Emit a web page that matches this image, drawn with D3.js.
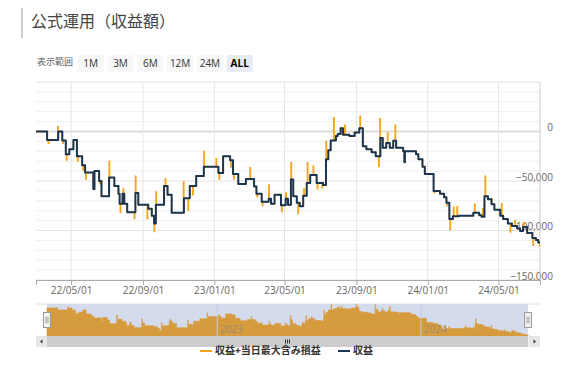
<!DOCTYPE html>
<html>
<head>
<meta charset="utf-8">
<script src="https://cdn.jsdelivr.net/npm/d3@7"></script>
<style>
  body { margin: 0; background: #fff; font-family: "Open Sans", "Noto Sans CJK JP", sans-serif; }
  svg text { font-family: "Open Sans", "Noto Sans CJK JP", sans-serif; }
</style>
</head>
<body>
<div id="chart"></div>
<script>
// 収益 (navy) - dates where the value changes, and the new value
const navyDates = [
  "2022-03-02","2022-03-21","2022-04-09","2022-04-16","2022-04-22","2022-04-28","2022-05-05","2022-05-11",
  "2022-05-20","2022-05-25","2022-06-08","2022-06-10","2022-06-18","2022-06-22","2022-07-05","2022-07-14",
  "2022-07-21","2022-07-23","2022-07-28","2022-07-31","2022-08-05","2022-08-19","2022-08-24","2022-09-10",
  "2022-09-16","2022-09-20","2022-09-23","2022-10-07","2022-10-13","2022-10-20","2022-11-10","2022-11-20",
  "2022-12-01","2022-12-14","2023-01-08","2023-01-16","2023-01-28","2023-02-02","2023-02-11","2023-02-24",
  "2023-03-10","2023-03-14","2023-03-23","2023-04-04","2023-04-08","2023-04-14","2023-04-25","2023-05-03",
  "2023-05-07","2023-05-12","2023-05-16","2023-05-22","2023-05-27","2023-06-02","2023-06-08","2023-06-14",
  "2023-06-25","2023-07-06","2023-07-11","2023-07-15","2023-07-19","2023-07-28","2023-07-31","2023-08-05",
  "2023-08-09","2023-08-20","2023-08-29","2023-09-06","2023-09-12","2023-09-18","2023-09-27","2023-10-04",
  "2023-10-12","2023-10-16","2023-10-22","2023-10-28","2023-11-03","2023-11-08","2023-11-20","2023-11-22",
  "2023-11-23","2023-12-12","2023-12-16","2023-12-23","2023-12-27","2024-01-11","2024-01-22","2024-01-29",
  "2024-02-02","2024-02-07","2024-02-13","2024-02-23","2024-03-19","2024-03-29","2024-04-02","2024-04-07",
  "2024-04-13","2024-04-19","2024-04-24","2024-05-04","2024-05-09","2024-05-17","2024-05-24","2024-06-02",
  "2024-06-07","2024-06-12","2024-06-19","2024-06-28","2024-07-04","2024-07-08","2024-07-11"
];
const navyValues = [
  0, -8500, 0, -9000, -23000, -18000, -8500, -25000,
  -34000, -41500, -58000, -40000, -50000, -65500, -46500, -55000,
  -63000, -73000, -63000, -73000, -81500, -62000, -74000, -78000,
  -85000, -93000, -74000, -55000, -64000, -82000, -67500, -55000,
  -45000, -35500, -42000, -25000, -29000, -43000, -53000, -48000,
  -55500, -63000, -71000, -68000, -73000, -64000, -74500, -68000,
  -74000, -48500, -65500, -72000, -75500, -65000, -52000, -44000,
  -52000, -54000, -28000, -19000, -9000, -4500, -2500, 3300,
  -3300, -4500, -1000, 3300, -15000, -18000, -21000, -25000,
  -6500, -16500, -11500, -16500, -9300, -16500, -20000, -31000,
  -20000, -23000, -28000, -35500, -43000, -60000, -63000, -66500,
  -72000, -88500, -85500, -85000, -82000, -84500, -86000, -65500,
  -68500, -73500, -79000, -85000, -88500, -93000, -95500, -98000,
  -100500, -96500, -102500, -107500, -109500, -112000, -112000
];

// 収益+当日最大含み損益 (orange) - one-day spikes away from 収益
const spikeDates = [
  "2022-03-23","2022-04-08","2022-04-17","2022-04-23","2022-05-12","2022-05-21","2022-05-26","2022-06-19",
  "2022-07-05","2022-07-24","2022-07-29","2022-08-17","2022-08-19","2022-09-08","2022-09-20","2022-09-23",
  "2022-10-09","2022-11-09","2022-11-17","2022-11-25","2022-12-14","2023-01-04","2023-01-09","2023-01-29",
  "2023-02-03","2023-03-03","2023-03-15","2023-03-24","2023-04-04","2023-04-26","2023-05-03","2023-05-12",
  "2023-05-24","2023-06-03","2023-06-09","2023-06-19","2023-06-26","2023-07-04","2023-07-11","2023-07-24",
  "2023-08-12","2023-09-07","2023-10-09","2023-10-11","2023-10-24","2023-11-06","2024-01-12","2024-02-03",
  "2024-02-08","2024-02-14","2024-02-20","2024-03-21","2024-04-04","2024-04-08","2024-04-19","2024-05-06",
  "2024-05-21","2024-05-29","2024-06-13","2024-06-29","2024-07-10"
];
const spikeValues = [
  -12000, 5000, -12000, -29000, -30000, -39000, -48000, -53000,
  -30000, -82000, -58000, -88000, -45000, -88000, -101000, -61000,
  -47500, -51000, -80000, -64000, -20000, -27500, -48000, -36000,
  -48000, -36500, -66000, -75000, -54000, -81000, -62000, -31500,
  -83000, -58000, -31500, -35000, -58000, -57000, -10000, 14000,
  6500, 15500, -35500, 13000, -1500, 6500, -62000, -75000,
  -99000, -76500, -76000, -73500, -78000, -45000, -68000, -73000,
  -101500, -90000, -92000, -115000, -115500
];

const seriesNames = ["収益+当日最大含み損益", "収益"];
const seriesColors = ["#f5a51c", "#1b3550"];
const rangeButtons = ["1M", "3M", "6M", "12M", "24M", "ALL"];
const yTickValues = [-150000, -100000, -50000, 0];
const navYears = ["2023-01-01", "2024-01-01"];

const width = 570, height = 372;
const parse = d3.timeParse("%Y-%m-%d");

const navy = navyDates.map((d, i) => ({ date: parse(d), value: navyValues[i] }));
const bisect = d3.bisector(d => d.date).right;
function navyAt(date) {
  const i = bisect(navy, date) - 1;
  return navy[Math.max(0, i)].value;
}

// orange series = 収益 steps plus the spike days
const orangeMap = new Map(navy.map(p => [+p.date, p.value]));
spikeDates.forEach(d => {
  const next = d3.timeDay.offset(parse(d), 1);
  if (!orangeMap.has(+next)) orangeMap.set(+next, navyAt(next));
});
spikeDates.forEach((d, i) => orangeMap.set(+parse(d), spikeValues[i]));
const orange = Array.from(orangeMap, ([t, v]) => ({ date: new Date(t), value: v }))
                    .sort((a, b) => a.date - b.date);

const svg = d3.select("#chart").append("svg")
              .attr("width", width)
              .attr("height", height);

// title with left bar
svg.append("rect")
   .attr("x", 21).attr("y", 8).attr("width", 2).attr("height", 30)
   .attr("fill", "#cfcfcf");
svg.append("text")
   .attr("x", 31).attr("y", 27)
   .style("font-size", "16px")
   .style("fill", "#444")
   .text("公式運用（収益額）");

// range selector
svg.append("text")
   .attr("x", 37).attr("y", 63)
   .attr("dominant-baseline", "middle")
   .style("font-size", "9px")
   .style("fill", "#666")
   .text("表示範囲");

const btn = svg.append("g").selectAll("g")
               .data(rangeButtons)
               .enter()
               .append("g")
               .attr("transform", (d, i) => `translate(${77.7 + i * 29.8}, 55)`);
btn.append("rect")
   .attr("width", 26).attr("height", 17)
   .attr("fill", d => d === "ALL" ? "#e6ebf5" : "#f7f7f7");
btn.append("text")
   .attr("x", 13).attr("y", 9)
   .attr("text-anchor", "middle")
   .attr("dominant-baseline", "middle")
   .style("font-size", "10px")
   .style("font-weight", d => d === "ALL" ? "bold" : "normal")
   .style("fill", d => d === "ALL" ? "#000" : "#333")
   .text(d => d);

// main plot
const plot = { left: 36, right: 540, top: 82, bottom: 280 };
const x = d3.scaleTime()
            .domain([parse("2022-03-02"), parse("2024-07-11")])
            .range([plot.left, plot.right]);
const y = d3.scaleLinear()
            .domain([-150000, 50000])
            .range([plot.bottom, plot.top]);

// horizontal grid (minor every 10,000, major every 50,000)
const grid = svg.append("g");
grid.selectAll("line.minor")
    .data(y.ticks(20))
    .enter().append("line")
    .attr("x1", plot.left).attr("x2", plot.right)
    .attr("y1", d => y(d)).attr("y2", d => y(d))
    .attr("stroke", d => d === 0 ? "#dcdcdc" : (d % 50000 === 0 ? "#e4e4e4" : "#f0f0f0"))
    .attr("stroke-width", d => d === 0 ? 2 : 1);

const xTicks = x.ticks(d3.timeMonth.every(4));
grid.selectAll("line.v")
    .data(xTicks)
    .enter().append("line")
    .attr("x1", d => x(d)).attr("x2", d => x(d))
    .attr("y1", plot.top).attr("y2", plot.bottom)
    .attr("stroke", "#e6e6e6");

// y labels on the right
const yAxis = svg.append("g")
   .attr("transform", `translate(553, -4)`)
   .call(d3.axisLeft(y).tickValues(yTickValues).tickSize(0).tickPadding(0)
          .tickFormat(d3.format(",")));
yAxis.select(".domain").remove();
yAxis.selectAll("text").style("font-size", "10px").style("fill", "#666");

svg.append("line")
   .attr("x1", plot.right).attr("x2", plot.right)
   .attr("y1", plot.top).attr("y2", plot.bottom)
   .attr("stroke", "#ccc");

// x axis
const xAxis = svg.append("g")
   .attr("transform", `translate(0, ${plot.bottom})`)
   .call(d3.axisBottom(x).tickValues(xTicks).tickSize(5).tickPadding(2)
          .tickFormat(d3.timeFormat("%y/%m/%d")));
xAxis.select(".domain").attr("stroke", "#aaa");
xAxis.selectAll(".tick line").attr("stroke", "#aaa");
xAxis.selectAll("text").style("font-size", "10px").style("fill", "#666");

svg.append("clipPath").attr("id", "clip")
   .append("rect")
   .attr("x", plot.left).attr("y", plot.top)
   .attr("width", plot.right - plot.left).attr("height", plot.bottom - plot.top);

const line = d3.line()
               .x(d => x(d.date))
               .y(d => y(d.value))
               .curve(d3.curveStepAfter);

const lines = svg.append("g").attr("clip-path", "url(#clip)");
lines.append("path")
     .datum(orange)
     .attr("fill", "none")
     .attr("stroke", seriesColors[0])
     .attr("stroke-width", 1.3)
     .attr("d", line);
lines.append("path")
     .datum(navy)
     .attr("fill", "none")
     .attr("stroke", seriesColors[1])
     .attr("stroke-width", 2)
     .attr("stroke-linejoin", "round")
     .attr("d", line);

// navigator
const nav = { left: 47, right: 528, top: 304, bottom: 336 };
const xN = d3.scaleTime().domain(x.domain()).range([nav.left, nav.right]);
const yN = d3.scaleLinear().domain([-116000, 16000]).range([nav.bottom, nav.top]);

svg.append("line")
   .attr("x1", plot.left).attr("x2", plot.right)
   .attr("y1", nav.top).attr("y2", nav.top)
   .attr("stroke", "#e0e0e0");
svg.append("rect")
   .attr("x", nav.left).attr("y", nav.top)
   .attr("width", nav.right - nav.left).attr("height", nav.bottom - nav.top)
   .attr("fill", "#d3dbec");

svg.append("path")
   .datum(orange)
   .attr("fill", "#d69b3d")
   .attr("stroke", "#d69b3d")
   .attr("stroke-width", 0.6)
   .attr("d", d3.area()
                .x(d => xN(d.date))
                .y0(nav.bottom)
                .y1(d => yN(d.value))
                .curve(d3.curveStepAfter));

const navYearG = svg.append("g").selectAll("g")
   .data(navYears.map(parse))
   .enter().append("g");
navYearG.append("line")
   .attr("x1", d => xN(d)).attr("x2", d => xN(d))
   .attr("y1", nav.top).attr("y2", nav.bottom)
   .attr("stroke", "#c4cde0");
navYearG.append("text")
   .attr("x", d => xN(d) + 3).attr("y", 333)
   .style("font-size", "10px")
   .style("fill", "#9a8a6e")
   .text(d => d3.timeFormat("%Y")(d));

// handles
const handle = svg.append("g").selectAll("g")
   .data([nav.left, nav.right])
   .enter().append("g")
   .attr("transform", d => `translate(${d - 3.5}, 312.5)`);
handle.append("rect")
   .attr("width", 7).attr("height", 15)
   .attr("fill", "#f2f2f2").attr("stroke", "#999");
handle.append("path")
   .attr("d", "M2.5,4V11M4.5,4V11")
   .attr("stroke", "#999");

// scrollbar
const sb = svg.append("g").attr("transform", "translate(0, 336)");
sb.append("rect")
  .attr("x", plot.left).attr("width", plot.right - plot.left).attr("height", 11)
  .attr("fill", "#f2f2f2");
sb.append("rect")
  .attr("x", nav.left).attr("width", nav.right - nav.left).attr("height", 11)
  .attr("fill", "#cccccc");
sb.append("rect")
  .attr("x", plot.left).attr("width", 11).attr("height", 11)
  .attr("fill", "#e6e6e6");
sb.append("rect")
  .attr("x", plot.right - 11).attr("width", 11).attr("height", 11)
  .attr("fill", "#e6e6e6");
sb.append("path")
  .attr("d", `M${plot.left + 6.5},3.5L${plot.left + 4},5.5L${plot.left + 6.5},7.5Z M${plot.right - 6.5},3.5L${plot.right - 4},5.5L${plot.right - 6.5},7.5Z`)
  .attr("fill", "#333");
sb.append("path")
  .attr("d", "M285.5,3.5V7.5M287.5,3.5V7.5M289.5,3.5V7.5")
  .attr("stroke", "#333");

// legend
const legend = svg.append("g").attr("transform", "translate(0, 351)");
const legendX = [[200, 215], [338, 353]];
seriesNames.forEach((name, i) => {
  legend.append("line")
        .attr("x1", legendX[i][0]).attr("x2", legendX[i][0] + 12)
        .attr("y1", 0).attr("y2", 0)
        .attr("stroke", seriesColors[i])
        .attr("stroke-width", 2);
  legend.append("text")
        .attr("x", legendX[i][1]).attr("y", 0)
        .attr("dominant-baseline", "middle")
        .style("font-size", "10px")
        .style("font-weight", "bold")
        .style("fill", "#333")
        .text(name);
});
</script>
</body>
</html>
